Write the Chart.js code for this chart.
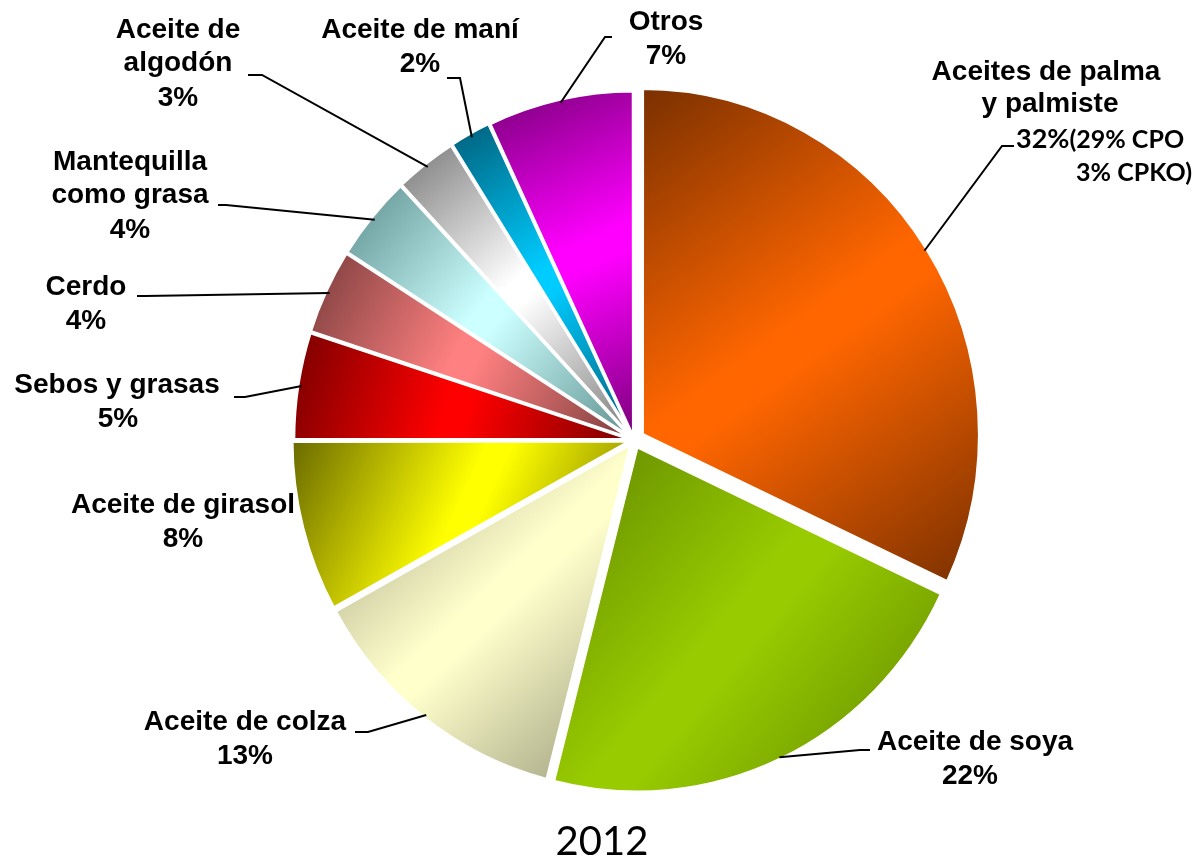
<!DOCTYPE html>
<html>
<head>
<meta charset="utf-8">
<script src="https://cdn.jsdelivr.net/npm/chart.js@4.4.1/dist/chart.umd.min.js"></script>
<style>
  body { margin: 0; background: #fff; }
  canvas { display: block; }
</style>
</head>
<body>
<canvas id="pie" width="1203" height="861"></canvas>
<script>
const categories = ['Aceites de palma y palmiste', 'Aceite de soya', 'Aceite de colza', 'Aceite de girasol',
    'Sebos y grasas', 'Cerdo', 'Mantequilla como grasa', 'Aceite de algodón', 'Aceite de maní', 'Otros'];
const shares = [32, 22, 13, 8, 5, 4, 4, 3, 2, 7];
const yearLabel = '2012';

// colours: base tone in the middle of each slice, darker tone at the corners
const baseColors = ['#ff6600', '#99cc00', '#ffffcc', '#ffff00', '#ff0000', '#ff8080', '#ccffff', '#ffffff', '#00ccff', '#ff00ff'];
const darkColors = ['#7a3000', '#5f8500', '#99997a', '#6b6b00', '#7a0000', '#7a3d3d', '#5f8f8f', '#7a7a7a', '#005f7a', '#7a007a'];
const offsets = [40, 30, 20, 16, 10, 10, 10, 10, 10, 10];

const RADIUS = 336;
const STRETCH_Y = 345 / 336;   // the original pie is a little taller than wide
const FONT = 'bold 28px "Liberation Sans", Arial, sans-serif';
const SMALL_FONT = 'bold 25px Lato, "Open Sans", sans-serif';

// label layout: text lines (centre x, y) and leader line elbow points
const labelLayout = [
    {lines: [['Aceites de palma', 1046, 72], ['y palmiste', 1050, 104]], leader: [[1014, 146], [1002, 146]]},
    {lines: [['Aceite de soya', 975, 742], ['22%', 970, 776]], leader: [[870, 750], [860, 750]]},
    {lines: [['Aceite de colza', 245, 722], ['13%', 245, 756]], leader: [[355, 732], [368, 732]]},
    {lines: [['Aceite de girasol', 183, 505], ['8%', 183, 539]], leader: null},
    {lines: [['Sebos y grasas', 117, 385], ['5%', 118, 419]], leader: [[234, 397], [245, 397]]},
    {lines: [['Cerdo', 86, 287], ['4%', 86, 321]], leader: [[137, 296], [145, 296]]},
    {lines: [['Mantequilla', 130, 162], ['como grasa', 130, 195], ['4%', 130, 230]], leader: [[218, 205], [226, 205]]},
    {lines: [['Aceite de', 178, 30], ['algodón', 178, 63], ['3%', 178, 98]], leader: [[248, 75], [262, 75]]},
    {lines: [['Aceite de maní', 420, 30], ['2%', 420, 64]], leader: [[447, 78], [460, 78]]},
    {lines: [['Otros', 666, 22], ['7%', 666, 56]], leader: [[612, 37], [605, 37]]}
];

const total = shares.reduce((a, b) => a + b, 0);

function sliceGradient(context) {
    const i = context.dataIndex;
    const area = context.chart.chartArea;
    if (context.type !== 'data' || !area) return baseColors[i];
    const cx = (area.left + area.right) / 2;
    const cy = (area.top + area.bottom) / 2;
    let before = 0;
    for (let k = 0; k < i; k++) before += shares[k];
    const a0 = -Math.PI / 2 + 2 * Math.PI * before / total;
    const a1 = a0 + 2 * Math.PI * shares[i] / total;
    const xs = [cx, cx + Math.cos(a0) * RADIUS, cx + Math.cos(a1) * RADIUS];
    const ys = [cy, cy + Math.sin(a0) * RADIUS, cy + Math.sin(a1) * RADIUS];
    for (let q = -4; q <= 4; q++) {
        const a = q * Math.PI / 2;
        if (a > a0 && a < a1) {
            xs.push(cx + Math.cos(a) * RADIUS);
            ys.push(cy + Math.sin(a) * RADIUS);
        }
    }
    const ctx = context.chart.ctx;
    const g = ctx.createLinearGradient(Math.min(...xs), Math.min(...ys), Math.max(...xs), Math.max(...ys));
    g.addColorStop(0, darkColors[i]);
    g.addColorStop(0.47, baseColors[i]);
    g.addColorStop(0.53, baseColors[i]);
    g.addColorStop(1, darkColors[i]);
    return g;
}

const stretchPlugin = {
    id: 'stretch',
    beforeDatasetsDraw(chart) {
        const a = chart.chartArea;
        const cy = (a.top + a.bottom) / 2;
        chart.ctx.save();
        chart.ctx.translate(0, cy);
        chart.ctx.scale(1, STRETCH_Y);
        chart.ctx.translate(0, -cy);
    },
    afterDatasetsDraw(chart) {
        chart.ctx.restore();
    }
};

const labelPlugin = {
    id: 'sliceLabels',
    afterDraw(chart) {
        const ctx = chart.ctx;
        const meta = chart.getDatasetMeta(0);
        ctx.save();
        ctx.fillStyle = '#000';
        ctx.strokeStyle = '#000';
        ctx.lineWidth = 2;
        ctx.textAlign = 'center';
        ctx.textBaseline = 'middle';

        labelLayout.forEach(function(lab, i) {
            ctx.font = FONT;
            lab.lines.forEach(function(l) {
                ctx.fillText(l[0], l[1], l[2]);
            });
            if (lab.leader) {
                const arc = meta.data[i];
                const mid = (arc.startAngle + arc.endAngle) / 2;
                const d = arc.outerRadius + (arc.options.offset || 0) / 4 - 2;
                const px = arc.x + Math.cos(mid) * d;
                const py = arc.y + Math.sin(mid) * d * STRETCH_Y;
                ctx.beginPath();
                ctx.moveTo(lab.leader[0][0], lab.leader[0][1]);
                ctx.lineTo(lab.leader[1][0], lab.leader[1][1]);
                ctx.lineTo(px, py);
                ctx.stroke();
            }
        });

        // palm oil breakdown
        ctx.textAlign = 'left';
        ctx.font = 'bold 27px Lato, "Liberation Sans", sans-serif';
        ctx.fillText(shares[0] + '%', 1016, 139);
        const pctWidth = ctx.measureText(shares[0] + '%').width;
        ctx.font = SMALL_FONT;
        ctx.fillText('(29% CPO', 1016 + pctWidth, 140);
        ctx.textAlign = 'right';
        ctx.fillText('3% CPKO)', 1192, 173);

        // year caption
        ctx.textAlign = 'center';
        ctx.font = '40px Lato, "Open Sans", sans-serif';
        ctx.fillText(yearLabel, 602, 842);
        ctx.restore();
    }
};

new Chart(document.getElementById('pie'), {
    type: 'pie',
    data: {
        labels: categories,
        datasets: [{
            data: shares,
            backgroundColor: sliceGradient,
            borderColor: '#ffffff',
            borderWidth: 3,
            offset: offsets,
            radius: RADIUS
        }]
    },
    options: {
        responsive: false,
        devicePixelRatio: 1,
        animation: false,
        layout: {padding: {left: 65, right: 0, top: 19, bottom: 0}},
        plugins: {
            legend: {display: false},
            tooltip: {enabled: false}
        }
    },
    plugins: [stretchPlugin, labelPlugin]
});
</script>
</body>
</html>
